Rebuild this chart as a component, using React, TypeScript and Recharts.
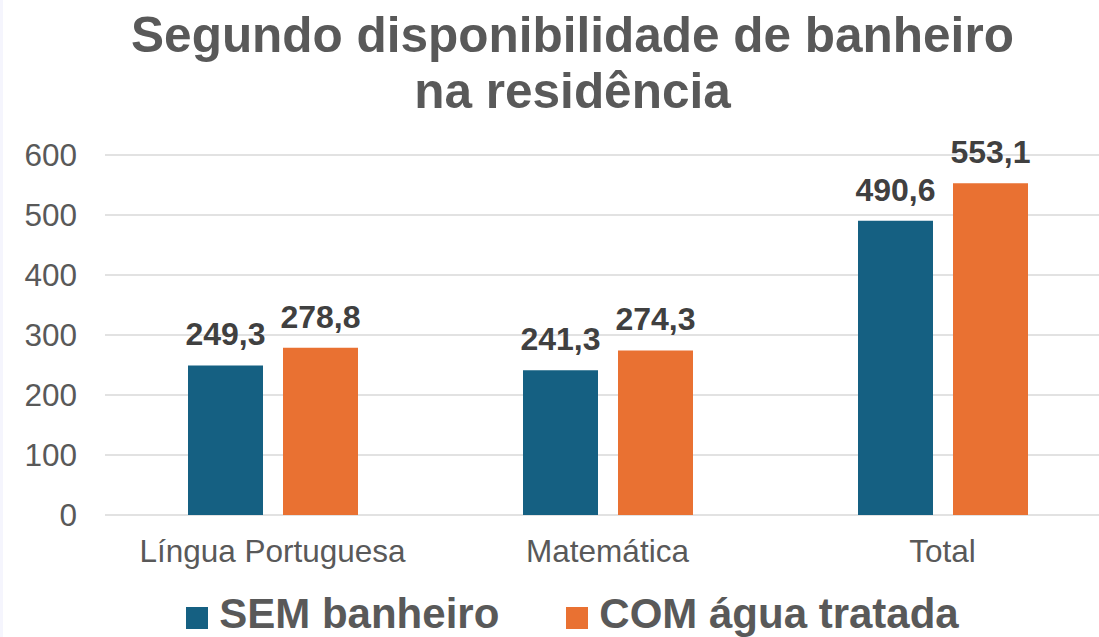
import React from "react";
import {
  BarChart,
  Bar,
  XAxis,
  YAxis,
  CartesianGrid,
  LabelList,
} from "recharts";

const categories = ["Língua Portuguesa", "Matemática", "Total"];
const semBanheiro = [249.3, 241.3, 490.6];
const comAguaTratada = [278.8, 274.3, 553.1];
const yTicks = [0, 100, 200, 300, 400, 500, 600];

const seriesNames = ["SEM banheiro", "COM água tratada"];
const BLUE = "#156082";
const ORANGE = "#E97132";
const FONT = '"Liberation Sans", Arial, sans-serif';

const chartData = categories.map((name, i) => ({
  name,
  sem: semBanheiro[i],
  com: comAguaTratada[i],
}));

// Decimal comma, as in the original
const formatValue = (v: number) => v.toFixed(1).replace(".", ",");

const labelStyle = {
  fill: "#404040",
  fontSize: 32,
  fontWeight: "bold",
  fontFamily: FONT,
};

const App: React.FC = () => {
  return (
    <div
      style={{
        position: "absolute",
        left: 0,
        top: 0,
        width: 1099,
        height: 637,
        overflow: "hidden",
        background: "#ffffff",
        fontFamily: FONT,
      }}
    >
      <div
        style={{
          position: "absolute",
          left: 0,
          top: 0,
          width: 3,
          height: 637,
          background: "#f5f5fd",
        }}
      />

      <div
        style={{
          position: "absolute",
          left: 0,
          top: 7,
          width: 1145,
          textAlign: "center",
          fontSize: 49.5,
          lineHeight: "56px",
          fontWeight: "bold",
          color: "#595959",
        }}
      >
        Segundo disponibilidade de banheiro
        <br />
        na residência
      </div>

      <div style={{ position: "absolute", left: 0, top: 0 }}>
        <BarChart
          width={1120}
          height={637}
          data={chartData}
          margin={{ top: 155, right: 10, left: 0, bottom: 62 }}
          barSize={75}
          barGap={20}
        >
          <CartesianGrid
            vertical={false}
            stroke="#d9d9d9"
            strokeWidth={1.5}
          />
          <XAxis
            dataKey="name"
            axisLine={false}
            tickLine={false}
            tickSize={0}
            tickMargin={25}
            height={60}
            interval={0}
            tick={{ fill: "#595959", fontSize: 31.5, fontFamily: FONT }}
          />
          <YAxis
            domain={[0, 600]}
            ticks={yTicks}
            axisLine={false}
            tickLine={false}
            tickSize={0}
            tickMargin={28}
            width={105}
            tick={{ fill: "#595959", fontSize: 31.5, fontFamily: FONT }}
          />
          <Bar dataKey="sem" fill={BLUE} isAnimationActive={false}>
            <LabelList
              dataKey="sem"
              position="top"
              offset={20}
              formatter={(v: any) => formatValue(Number(v))}
              style={labelStyle}
            />
          </Bar>
          <Bar dataKey="com" fill={ORANGE} isAnimationActive={false}>
            <LabelList
              dataKey="com"
              position="top"
              offset={20}
              formatter={(v: any) => formatValue(Number(v))}
              style={labelStyle}
            />
          </Bar>
        </BarChart>
      </div>

      {/* legend */}
      <div
        style={{
          position: "absolute",
          left: 0,
          top: 590,
          width: 1145,
          display: "flex",
          justifyContent: "center",
          alignItems: "flex-start",
        }}
      >
        {seriesNames.map((label, i) => (
          <div
            key={label}
            style={{
              display: "flex",
              alignItems: "flex-start",
              marginLeft: i === 0 ? 0 : 67,
            }}
          >
            <div
              style={{
                width: 22,
                height: 22,
                marginTop: 17,
                background: i === 0 ? BLUE : ORANGE,
              }}
            />
            <span
              style={{
                marginLeft: 11,
                fontSize: 42,
                lineHeight: "48px",
                fontWeight: "bold",
                color: "#595959",
                whiteSpace: "nowrap",
              }}
            >
              {label}
            </span>
          </div>
        ))}
      </div>
    </div>
  );
};

export default App;
